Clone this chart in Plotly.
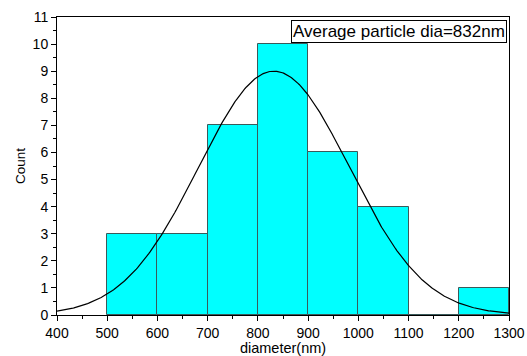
import numpy as np
import plotly.graph_objects as go

# Histogram data
bin_left = [500, 600, 700, 800, 900, 1000, 1100, 1200]
bin_width = 100
counts = [3, 3, 7, 10, 6, 4, 0, 1]

# Gaussian fit parameters
fit_amp = 9.0
fit_mean = 832.0
fit_sigma = 150.0

x_ticks = [400, 500, 600, 700, 800, 900, 1000, 1100, 1200, 1300]
y_ticks = list(range(0, 12))

centers = [b + bin_width / 2 for b in bin_left]
xf = np.linspace(400, 1300, 400)
yf = fit_amp * np.exp(-(xf - fit_mean) ** 2 / (2 * fit_sigma ** 2))

fig = go.Figure()
fig.add_trace(go.Bar(
    x=centers, y=counts, width=[bin_width] * len(centers),
    marker=dict(color="#00FFFF", line=dict(color="#3a5a5a", width=1)),
    showlegend=False,
))
fig.add_trace(go.Scatter(
    x=xf, y=yf, mode="lines", line=dict(color="black", width=1.2),
    showlegend=False,
))

font_family = "Liberation Sans, Arial, sans-serif"
fig.update_layout(
    width=527, height=356,
    margin=dict(l=57, r=18, t=17, b=41),
    plot_bgcolor="white", paper_bgcolor="white",
    font=dict(family=font_family, color="black", size=14),
    bargap=0,
    xaxis=dict(
        range=[400, 1300], tickvals=x_ticks, ticktext=[str(v) for v in x_ticks],
        showgrid=False, zeroline=False, automargin=False,
        showline=True, linecolor="black", linewidth=1, mirror=True,
        ticks="outside", ticklen=5, tickcolor="black",
        minor=dict(ticks="outside", ticklen=3, dtick=50, tickcolor="black"),
        title=dict(text="diameter(nm)", font=dict(size=14.5), standoff=3),
        tickfont=dict(size=14),
    ),
    yaxis=dict(
        range=[0, 11], tickvals=y_ticks,
        showgrid=False, zeroline=False, automargin=False,
        showline=True, linecolor="black", linewidth=1, mirror=True,
        ticks="outside", ticklen=5, tickcolor="black",
        minor=dict(ticks="outside", ticklen=3, dtick=0.5, tickcolor="black"),
        title=dict(text="Count", font=dict(size=13.5), standoff=3),
        tickfont=dict(size=14),
    ),
    annotations=[dict(
        text="Average particle dia=832nm", xref="paper", yref="paper",
        x=0.9955, y=0.99, xanchor="right", yanchor="top", showarrow=False,
        bordercolor="black", borderwidth=1, borderpad=1, bgcolor="white",
        font=dict(size=17, family=font_family),
    )],
)

fig.write_html("out.html")
